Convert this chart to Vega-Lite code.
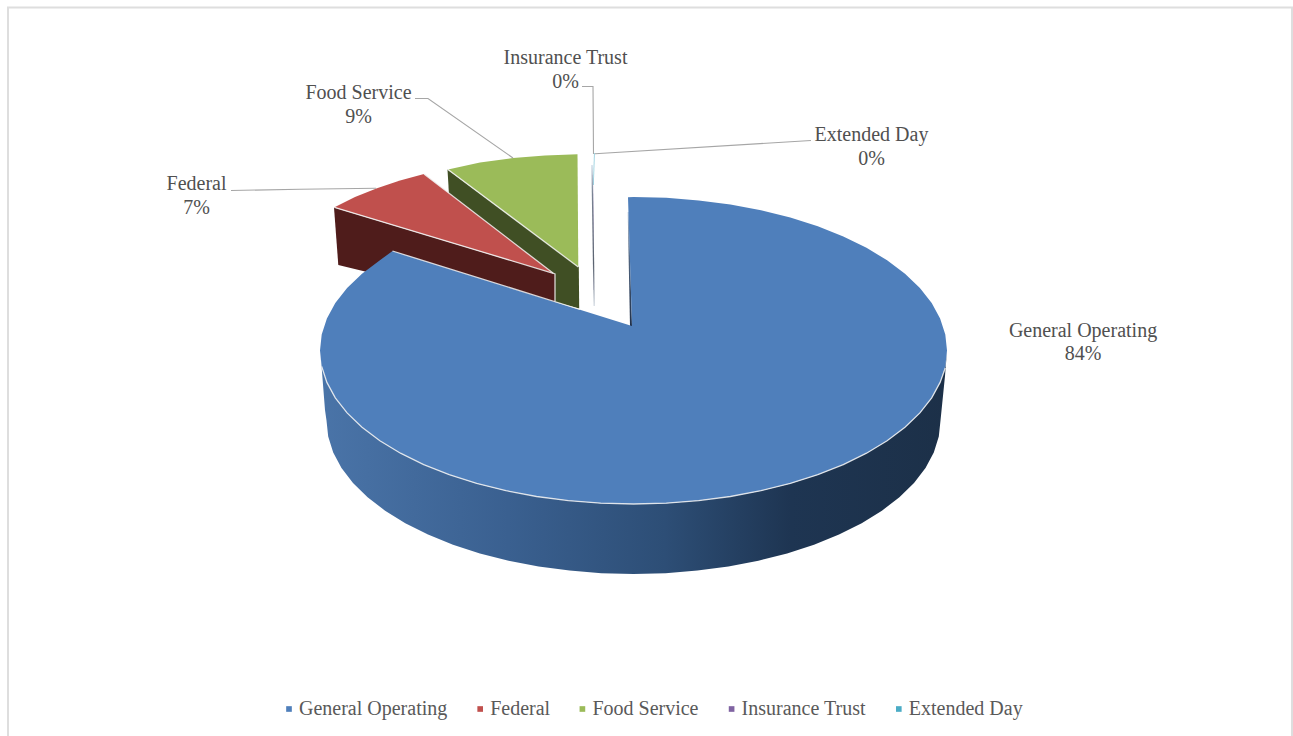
{
  "$schema": "https://vega.github.io/schema/vega-lite/v6.json",
  "width": 1293,
  "height": 736,
  "padding": 0,
  "autosize": {"type": "none"},
  "background": "white",
  "projection": {"type": "identity", "scale": 1, "translate": [0, 0]},
  "config": {"view": {"stroke": null}, "text": {"font": "Liberation Serif"}},
  "layer": [
    {
      "data": {"values": [{"type": "Feature", "properties": {"part": "frame"}, "geometry": {"type": "LineString", "coordinates": [[8, 740], [8, 7.5], [1292, 7.5], [1292, 740]]}}]},
      "mark": {"type": "geoshape", "filled": false, "stroke": "#DEDEDE", "strokeWidth": 2}
    },
    {
      "data": {"values": [{"type": "Feature", "properties": {"name": "Food Service", "part": "side"}, "geometry": {"type": "Polygon", "coordinates": [[[447.5, 169.5], [578.8, 267], [579.2, 308.5], [555, 302], [449, 195], [447.5, 169.5]]]}}]},
      "mark": {"type": "geoshape", "fill": "#404F24", "stroke": null}
    },
    {
      "data": {"values": [{"type": "Feature", "properties": {"name": "Federal", "part": "side"}, "geometry": {"type": "Polygon", "coordinates": [[[334, 207.5], [555, 274], [555, 305], [400, 280], [338.3, 265], [334, 207.5]]]}}]},
      "mark": {"type": "geoshape", "fill": "#4F1C1B", "stroke": null}
    },
    {
      "data": {"values": [{"type": "Feature", "properties": {"name": "General Operating", "part": "side"}, "geometry": {"type": "Polygon", "coordinates": [[[947, 350.5], [945.3, 366.5], [940.1, 382.4], [931.7, 397.9], [919.9, 412.9], [905, 427.25], [887.1, 440.7], [866.5, 453.2], [843.3, 464.6], [817.8, 474.7], [790.3, 483.4], [761, 490.7], [730.4, 496.5], [698.7, 500.6], [666.3, 503.2], [633.5, 504], [600.7, 503.2], [568.3, 500.6], [536.6, 496.5], [506, 490.7], [476.7, 483.4], [449.2, 474.7], [423.7, 464.6], [400.5, 453.2], [379.9, 440.7], [362, 427.25], [347.1, 412.9], [335.3, 397.9], [326.9, 382.4], [321.7, 366.5], [320, 350.5], [321.7, 368], [325, 410], [326.5, 420.5], [328.2, 436.5], [333.2, 452.4], [341.5, 467.9], [353, 482.9], [367.6, 497.25], [385.1, 510.7], [405.3, 523.2], [428, 534.6], [453, 544.7], [479.9, 553.4], [508.6, 560.7], [538.6, 566.5], [569.6, 570.6], [601.4, 573.2], [633.5, 574], [665.6, 573.2], [697.4, 570.6], [728.4, 566.5], [758.4, 560.7], [787.1, 553.4], [814, 544.7], [839, 534.6], [861.7, 523.2], [881.9, 510.7], [899.4, 497.25], [914, 482.9], [925.5, 467.9], [933.8, 452.4], [938.8, 436.5], [940.5, 420.5], [945, 376], [947, 350.5]]]}}]},
      "mark": {
        "type": "geoshape",
        "stroke": null,
        "fill": {
          "gradient": "linear", "x1": 0, "y1": 0, "x2": 1, "y2": 0,
          "stops": [
            {"offset": 0, "color": "#4A74A8"},
            {"offset": 0.3, "color": "#3A6090"},
            {"offset": 0.55, "color": "#2D4E76"},
            {"offset": 0.75, "color": "#1E3552"},
            {"offset": 1, "color": "#1C3048"}
          ]
        }
      }
    },
    {
      "data": {"values": [{"type": "Feature", "properties": {"name": "General Operating", "part": "inner wall"}, "geometry": {"type": "Polygon", "coordinates": [[[627.7, 212], [628.7, 212], [632, 326], [630, 326], [627.7, 212]]]}}]},
      "mark": {
        "type": "geoshape",
        "stroke": null,
        "fill": {
          "gradient": "linear", "x1": 0, "y1": 0, "x2": 0, "y2": 1,
          "stops": [
            {"offset": 0, "color": "#B4C4D8"},
            {"offset": 0.3, "color": "#5A6F8A"},
            {"offset": 1, "color": "#1F2F48"}
          ]
        }
      }
    },
    {
      "data": {"values": [
        {"type": "Feature", "properties": {"name": "Food Service", "share": 9}, "geometry": {"type": "Polygon", "coordinates": [[[448, 169.5], [480, 162.5], [513, 158], [545, 155.5], [577.5, 154.3], [578.3, 267], [448, 169.5]]]}},
        {"type": "Feature", "properties": {"name": "Federal", "share": 7}, "geometry": {"type": "Polygon", "coordinates": [[[334.5, 207.3], [355, 197], [377, 188.3], [400, 180.5], [424, 174], [553.3, 273.3], [334.5, 207.3]]]}},
        {"type": "Feature", "properties": {"name": "Insurance Trust", "share": 0.2}, "geometry": {"type": "Polygon", "coordinates": [[[592.6, 175], [593, 175], [594, 290], [593.6, 290], [592.6, 175]]]}},
        {"type": "Feature", "properties": {"name": "Extended Day", "share": 0.1}, "geometry": {"type": "Polygon", "coordinates": [[[594, 153], [594.5, 153], [593.9, 185], [593.4, 185], [594, 153]]]}},
        {"type": "Feature", "properties": {"name": "General Operating", "share": 84}, "geometry": {"type": "Polygon", "coordinates": [[[628, 197.2], [633.5, 197], [666.3, 197.8], [698.7, 200.4], [730.4, 204.5], [761, 210.3], [790.3, 217.6], [817.8, 226.3], [843.3, 236.4], [866.5, 247.8], [887.1, 260.3], [905, 273.75], [919.9, 288.1], [931.7, 303.1], [940.1, 318.6], [945.3, 334.5], [947, 350.5], [945.3, 366.5], [940.1, 382.4], [931.7, 397.9], [919.9, 412.9], [905, 427.25], [887.1, 440.7], [866.5, 453.2], [843.3, 464.6], [817.8, 474.7], [790.3, 483.4], [761, 490.7], [730.4, 496.5], [698.7, 500.6], [666.3, 503.2], [633.5, 504], [600.7, 503.2], [568.3, 500.6], [536.6, 496.5], [506, 490.7], [476.7, 483.4], [449.2, 474.7], [423.7, 464.6], [400.5, 453.2], [379.9, 440.7], [362, 427.25], [347.1, 412.9], [335.3, 397.9], [326.9, 382.4], [321.7, 366.5], [320, 350.5], [321.7, 334.5], [326.9, 318.6], [335.3, 303.1], [347.1, 288.1], [362, 273.75], [379.9, 260.3], [392.5, 251], [632, 326], [628, 197.2]]]}}
      ]},
      "mark": {"type": "geoshape", "stroke": null},
      "encoding": {
        "color": {
          "field": "properties.name",
          "type": "nominal",
          "scale": {
            "domain": ["General Operating", "Federal", "Food Service", "Insurance Trust", "Extended Day"],
            "range": ["#4F7FBB", "#C0504D", "#9BBB59", "#8064A2", "#4BACC6"]
          },
          "legend": {
            "title": null,
            "orient": "none",
            "legendX": 279,
            "legendY": 699,
            "direction": "horizontal",
            "columns": 5,
            "columnPadding": 22.2,
            "symbolType": "square",
            "symbolSize": 32,
            "symbolStrokeWidth": 0,
            "labelFont": "Liberation Serif",
            "labelFontSize": 20,
            "labelColor": "#595959",
            "labelLimit": 300,
            "labelOffset": 0
          }
        }
      }
    },
    {
      "data": {"values": [{"type": "Feature", "properties": {"name": "Insurance Trust", "part": "side"}, "geometry": {"type": "LineString", "coordinates": [[592, 165], [594.2, 306]]}}]},
      "mark": {
        "type": "geoshape",
        "filled": false,
        "strokeWidth": 1.3,
        "stroke": {
          "gradient": "linear", "x1": 0, "y1": 0, "x2": 0, "y2": 1,
          "stops": [
            {"offset": 0, "color": "#CBD9E6"},
            {"offset": 0.2, "color": "#7A8494"},
            {"offset": 0.7, "color": "#5A6270"},
            {"offset": 1, "color": "#D5DCE4"}
          ]
        }
      }
    },
    {
      "data": {"values": [
        {"type": "Feature", "properties": {"edge": "front rim"}, "geometry": {"type": "LineString", "coordinates": [[945.3, 368], [940.1, 382.4], [931.7, 397.9], [919.9, 412.9], [905, 427.25], [887.1, 440.7], [866.5, 453.2], [843.3, 464.6], [817.8, 474.7], [790.3, 483.4], [761, 490.7], [730.4, 496.5], [698.7, 500.6], [666.3, 503.2], [633.5, 504], [600.7, 503.2], [568.3, 500.6], [536.6, 496.5], [506, 490.7], [476.7, 483.4], [449.2, 474.7], [423.7, 464.6], [400.5, 453.2], [379.9, 440.7], [362, 427.25], [347.1, 412.9], [335.3, 397.9], [326.9, 382.4], [321.7, 366.5]]}},
        {"type": "Feature", "properties": {"edge": "general cut"}, "geometry": {"type": "LineString", "coordinates": [[392.5, 251], [580, 309.5]]}},
        {"type": "Feature", "properties": {"edge": "federal front"}, "geometry": {"type": "LineString", "coordinates": [[334.5, 207.3], [553.3, 273.3]]}},
        {"type": "Feature", "properties": {"edge": "federal back"}, "geometry": {"type": "LineString", "coordinates": [[424, 174], [553.3, 273.3], [555, 274], [555, 301.5]]}},
        {"type": "Feature", "properties": {"edge": "food front"}, "geometry": {"type": "LineString", "coordinates": [[448, 169.5], [578.3, 267]]}}
      ]},
      "mark": {"type": "geoshape", "filled": false, "stroke": "#F2F2F2", "strokeWidth": 1.3, "strokeOpacity": 0.85}
    },
    {
      "data": {"values": [
        {"type": "Feature", "properties": {"leader": "Federal"}, "geometry": {"type": "LineString", "coordinates": [[231, 190.5], [300, 189.3], [376, 188.3]]}},
        {"type": "Feature", "properties": {"leader": "Food Service"}, "geometry": {"type": "LineString", "coordinates": [[415, 98.5], [428, 98.5], [513, 158]]}},
        {"type": "Feature", "properties": {"leader": "Insurance Trust"}, "geometry": {"type": "LineString", "coordinates": [[582, 86.5], [593, 86.5], [593.5, 154]]}},
        {"type": "Feature", "properties": {"leader": "Extended Day"}, "geometry": {"type": "LineString", "coordinates": [[595, 153.7], [811, 140.5]]}}
      ]},
      "mark": {"type": "geoshape", "filled": false, "stroke": "#A6A6A6", "strokeWidth": 1.1}
    },
    {
      "data": {"values": [
        {"label": "General Operating\n84%", "lon": 1083, "lat": 330.5},
        {"label": "Federal\n7%", "lon": 196.5, "lat": 184},
        {"label": "Food Service\n9%", "lon": 358.5, "lat": 93},
        {"label": "Insurance Trust\n0%", "lon": 565.5, "lat": 58},
        {"label": "Extended Day\n0%", "lon": 871.5, "lat": 135}
      ]},
      "mark": {"type": "text", "font": "Liberation Serif", "fontSize": 20, "color": "#505050", "lineBreak": "\n", "lineHeight": 23.5, "align": "center", "baseline": "middle"},
      "encoding": {
        "longitude": {"field": "lon", "type": "quantitative"},
        "latitude": {"field": "lat", "type": "quantitative"},
        "text": {"field": "label", "type": "nominal"}
      }
    }
  ]
}
